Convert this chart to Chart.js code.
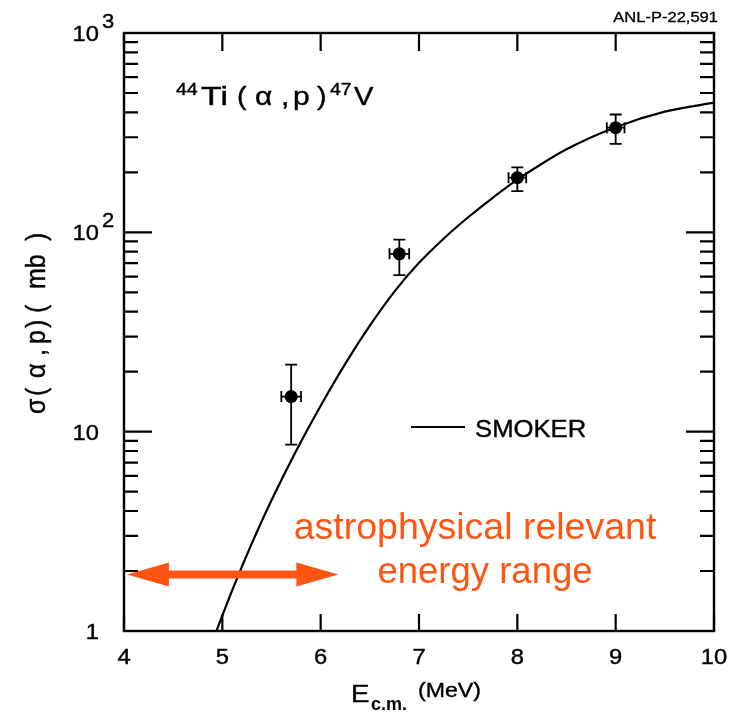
<!DOCTYPE html>
<html><head><meta charset="utf-8">
<script src="https://cdn.jsdelivr.net/npm/chart.js@4.4.1/dist/chart.umd.min.js"></script>
<style>html,body{margin:0;padding:0;background:#fff}#wrap{width:736px;height:719px}</style>
</head><body><div id="wrap"><canvas id="c" width="736" height="719"></canvas></div>
<script>
// ---- data ----
const energy = [5.7, 6.8, 8.0, 9.0];
const sigma = [15, 78, 188, 335];
const sigmaLow = [8.6, 61, 161, 278];
const sigmaHigh = [21.7, 92, 212, 390];
const energyErr = [0.1, 0.1, 0.09, 0.09];
const smokerE = [4.94, 5.1, 5.3, 5.5, 5.75, 6.0, 6.25, 6.5, 6.75, 7.0, 7.25, 7.5, 7.75, 8.0, 8.5, 9.0, 9.5, 10.0];
const smokerSigma = [1.0, 1.6, 2.75, 4.53, 8.0, 13.5, 21.9, 34, 50.4, 70.3, 92.9, 119, 149, 184, 261, 337, 403, 447];
const xTickValues = [4, 5, 6, 7, 8, 9, 10];
const yDecades = [1, 10, 100, 1000];
const yTickBase = ['1', '10', '10', '10'];
const yTickExp = ['', '', '2', '3'];
const arrowRangeE = [4.03, 6.18];
const arrowSigma = 1.92;

const FONT = '"Liberation Sans", Arial, Helvetica, sans-serif';
const ORANGE = '#FF5412';

function txt(ctx, s, x, y, size, o) {
  o = o || {};
  ctx.save();
  ctx.translate(x, y);
  ctx.scale(o.sx || 1, 1);
  if (o.rot) ctx.rotate(o.rot);
  ctx.font = (o.bold ? 'bold ' : '') + size + 'px ' + FONT;
  ctx.fillStyle = o.color || '#000';
  ctx.textAlign = o.align || 'left';
  ctx.textBaseline = o.baseline || 'alphabetic';
  ctx.fillText(s, 0, 0);
  if (o.weight) {
    ctx.strokeStyle = o.color || '#000';
    ctx.lineWidth = o.weight;
    ctx.strokeText(s, 0, 0);
  }
  ctx.restore();
}

const overlay = {
  id: 'overlay',
  beforeDatasetsDraw(chart) {
    const ctx = chart.ctx, xs = chart.scales.x, ys = chart.scales.y;
    ctx.save();
    ctx.strokeStyle = '#000';
    ctx.lineWidth = 1.8;
    for (let i = 0; i < energy.length; i++) {
      const px = xs.getPixelForValue(energy[i]);
      const py = ys.getPixelForValue(sigma[i]);
      const yl = ys.getPixelForValue(sigmaLow[i]);
      const yh = ys.getPixelForValue(sigmaHigh[i]);
      const xl = xs.getPixelForValue(energy[i] - energyErr[i]);
      const xh = xs.getPixelForValue(energy[i] + energyErr[i]);
      ctx.beginPath();
      ctx.moveTo(px, yl); ctx.lineTo(px, yh);
      ctx.moveTo(px - 6, yl); ctx.lineTo(px + 6, yl);
      ctx.moveTo(px - 6, yh); ctx.lineTo(px + 6, yh);
      ctx.moveTo(xl, py); ctx.lineTo(xh, py);
      ctx.moveTo(xl, py - 5.5); ctx.lineTo(xl, py + 5.5);
      ctx.moveTo(xh, py - 5.5); ctx.lineTo(xh, py + 5.5);
      ctx.stroke();
    }
    ctx.restore();
  },
  afterDraw(chart) {
    const ctx = chart.ctx, xs = chart.scales.x, ys = chart.scales.y;
    const a = chart.chartArea;
    ctx.save();
    ctx.strokeStyle = '#000';
    ctx.lineWidth = 2.4;
    ctx.lineCap = 'butt';
    ctx.strokeRect(a.left, a.top, a.right - a.left, a.bottom - a.top);
    ctx.lineWidth = 2.2;
    ctx.beginPath();
    xTickValues.forEach(v => {
      const p = xs.getPixelForValue(v);
      ctx.moveTo(p, a.bottom); ctx.lineTo(p, a.bottom - 17);
      ctx.moveTo(p, a.top); ctx.lineTo(p, a.top + 18);
    });
    yDecades.forEach((d, k) => {
      const p = ys.getPixelForValue(d);
      ctx.moveTo(a.left, p); ctx.lineTo(a.left + 28, p);
      ctx.moveTo(a.right, p); ctx.lineTo(a.right - 28, p);
      if (k < yDecades.length - 1) {
        for (let m = 2; m <= 9; m++) {
          const q = ys.getPixelForValue(d * m);
          ctx.moveTo(a.left, q); ctx.lineTo(a.left + 14, q);
          ctx.moveTo(a.right, q); ctx.lineTo(a.right - 14, q);
        }
      }
    });
    ctx.stroke();
    ctx.restore();

    const W = 0.4;
    // tick labels
    xTickValues.forEach(v => {
      txt(ctx, String(v), xs.getPixelForValue(v), 664, 22, {align: 'center', sx: 1.08, weight: W});
    });
    yDecades.forEach((d, k) => {
      const p = ys.getPixelForValue(d);
      txt(ctx, yTickBase[k], 99, p + 8, 22, {align: 'right', sx: 1.08, weight: W});
      if (yTickExp[k]) txt(ctx, yTickExp[k], 102, p - 5, 21, {sx: 1.05, weight: W});
    });

    // axis titles
    txt(ctx, 'E', 351, 702, 24, {sx: 1.15, weight: W});
    txt(ctx, 'c.m.', 371, 710, 18, {bold: true});
    txt(ctx, '(MeV)', 418, 697, 21, {sx: 1.1, weight: W});
    const yPieces = [['\u03c3', 414], ['(', 396], ['\u03b1', 378], [',', 356], ['p', 344], [')', 328], ['(', 313], ['mb', 289], [')', 241]];
    yPieces.forEach(([s, y]) => txt(ctx, s, 45, y, 25, {rot: -Math.PI / 2, sx: 1.12, weight: 0.4}));

    // reaction label
    txt(ctx, '44', 176, 95, 17, {sx: 1.15, weight: W});
    txt(ctx, 'Ti', 201, 105, 26, {sx: 1.3, weight: W});
    txt(ctx, '(', 237, 105, 26, {sx: 1.1, weight: W});
    txt(ctx, '\u03b1', 255, 105, 26, {sx: 1.15, weight: W});
    txt(ctx, ',', 281, 105, 26, {sx: 1.15, weight: W});
    txt(ctx, 'p', 293, 105, 26, {sx: 1.15, weight: W});
    txt(ctx, ')', 317, 105, 26, {sx: 1.1, weight: W});
    txt(ctx, '47', 330, 95, 17, {sx: 1.15, weight: W});
    txt(ctx, 'V', 354, 105, 26, {sx: 1.12, weight: W});

    // top-right ID
    txt(ctx, 'ANL-P-22,591', 718, 22, 14, {align: 'right', sx: 1.18, weight: 0.3});

    // legend
    ctx.save();
    ctx.strokeStyle = '#000'; ctx.lineWidth = 2;
    ctx.beginPath(); ctx.moveTo(411, 427); ctx.lineTo(465, 427); ctx.stroke();
    ctx.restore();
    txt(ctx, 'SMOKER', 475, 437, 24, {sx: 1.07, weight: W});

    // annotation arrow
    const x1 = xs.getPixelForValue(arrowRangeE[0]);
    const x2 = xs.getPixelForValue(arrowRangeE[1]);
    const ay = ys.getPixelForValue(arrowSigma);
    const hl = 42, hh = 12, sh = 4;
    ctx.save();
    ctx.fillStyle = ORANGE;
    ctx.beginPath();
    ctx.moveTo(x1, ay);
    ctx.lineTo(x1 + hl, ay - hh);
    ctx.lineTo(x1 + hl, ay - sh);
    ctx.lineTo(x2 - hl, ay - sh);
    ctx.lineTo(x2 - hl, ay - hh);
    ctx.lineTo(x2, ay);
    ctx.lineTo(x2 - hl, ay + hh);
    ctx.lineTo(x2 - hl, ay + sh);
    ctx.lineTo(x1 + hl, ay + sh);
    ctx.lineTo(x1 + hl, ay + hh);
    ctx.closePath();
    ctx.fill();
    ctx.restore();
    txt(ctx, 'astrophysical relevant', 475, 539, 37.5, {align: 'center', color: ORANGE});
    txt(ctx, 'energy range', 485, 583, 36.5, {align: 'center', color: ORANGE});
  }
};

new Chart(document.getElementById('c'), {
  type: 'scatter',
  data: {
    datasets: [
      {
        type: 'line',
        data: smokerE.map((e, i) => ({x: e, y: smokerSigma[i]})),
        borderColor: '#000', borderWidth: 2.2, pointRadius: 0,
        tension: 0.3, fill: false
      },
      {
        type: 'scatter',
        data: energy.map((e, i) => ({x: e, y: sigma[i]})),
        pointRadius: 6.5, pointStyle: 'circle',
        backgroundColor: '#000', borderColor: '#000', borderWidth: 0
      }
    ]
  },
  options: {
    responsive: false, animation: false, events: [],
    layout: {padding: {left: 124, top: 33, right: 22, bottom: 88}},
    plugins: {legend: {display: false}, tooltip: {enabled: false}},
    scales: {
      x: {type: 'linear', min: 4, max: 10, display: false},
      y: {type: 'logarithmic', min: 1, max: 1000, display: false}
    }
  },
  plugins: [overlay]
});
</script></body></html>
